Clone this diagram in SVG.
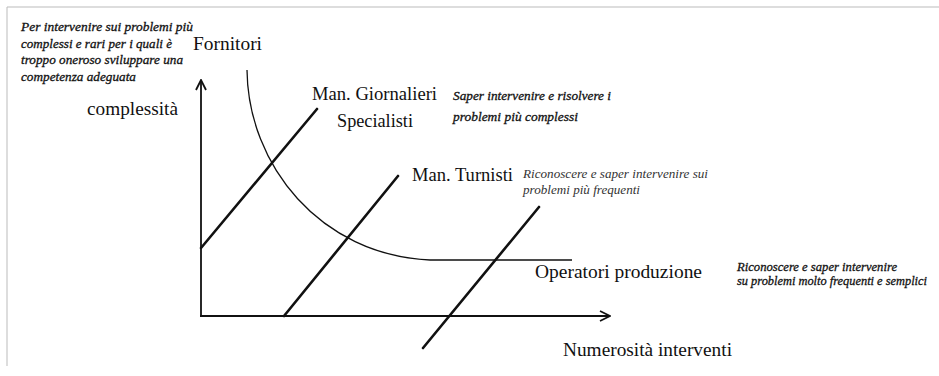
<svg xmlns="http://www.w3.org/2000/svg" width="939" height="376" viewBox="0 0 939 376">
<defs>
<style>
.lbl{font-family:"Liberation Serif","Times New Roman",serif;font-size:19.5px;fill:#111}
.it{font-family:"Liberation Serif","Times New Roman",serif;font-style:italic;font-size:13px;fill:#111;stroke:#111;stroke-width:0.3}
.itl{font-family:"Liberation Serif","Times New Roman",serif;font-style:italic;font-size:12.5px;fill:#333}
.axis{stroke:#111;stroke-width:1.8;fill:none}
.diag{stroke:#111;stroke-width:2.6;fill:none;stroke-linecap:round}
.curve{stroke:#111;stroke-width:1.3;fill:none}
.frame{stroke:#bbb;stroke-width:1;fill:none}
</style>
<marker id="arr" viewBox="0 0 12 12" refX="11" refY="6" markerWidth="12" markerHeight="12" markerUnits="userSpaceOnUse" orient="auto">
<path d="M1,1 L11,6 L1,11" fill="none" stroke="#111" stroke-width="1.8"/>
</marker>
</defs>
<rect width="939" height="376" fill="#fff"/>
<path class="frame" d="M7,366 L7,7 L939,7"/>
<g id="connectors">
<line class="axis" x1="201" y1="316" x2="201" y2="80" marker-end="url(#arr)"/>
<line class="axis" x1="200" y1="316" x2="610" y2="316" marker-end="url(#arr)"/>
<path class="curve" d="M247,70 C248,165 320,255 430,260 L572,260"/>
<line class="diag" x1="201" y1="248" x2="317" y2="109"/>
<line class="diag" x1="284" y1="316" x2="398" y2="176"/>
<line class="diag" x1="423" y1="348" x2="539" y2="207"/>
</g>
<g id="note-fornitori">
<text class="it" x="21" y="31" textLength="172" lengthAdjust="spacingAndGlyphs">Per intervenire sui problemi più</text>
<text class="it" x="21" y="47.5" textLength="151" lengthAdjust="spacingAndGlyphs">complessi e rari per i quali è</text>
<text class="it" x="21" y="64" textLength="162" lengthAdjust="spacingAndGlyphs">troppo oneroso sviluppare una</text>
<text class="it" x="21" y="80.5" textLength="115" lengthAdjust="spacingAndGlyphs">competenza adeguata</text>
</g>
<g id="fornitori">
<text class="lbl" x="193" y="50" textLength="69" lengthAdjust="spacingAndGlyphs">Fornitori</text>
</g>
<g id="y-label">
<text class="lbl" x="87" y="115" textLength="91" lengthAdjust="spacingAndGlyphs">complessità</text>
</g>
<g id="giornalieri">
<text class="lbl" x="312" y="100" textLength="125" lengthAdjust="spacingAndGlyphs">Man. Giornalieri</text>
<text class="lbl" x="337" y="127" textLength="76" lengthAdjust="spacingAndGlyphs">Specialisti</text>
</g>
<g id="note-giornalieri">
<text class="it" x="453" y="100" textLength="158" lengthAdjust="spacingAndGlyphs">Saper intervenire e risolvere i</text>
<text class="it" x="453" y="121" textLength="125" lengthAdjust="spacingAndGlyphs">problemi più complessi</text>
</g>
<g id="turnisti">
<text class="lbl" x="412" y="181" textLength="101" lengthAdjust="spacingAndGlyphs">Man. Turnisti</text>
</g>
<g id="note-turnisti">
<text class="itl" x="523" y="178" textLength="185" lengthAdjust="spacingAndGlyphs">Riconoscere e saper intervenire sui</text>
<text class="itl" x="523" y="194" textLength="117" lengthAdjust="spacingAndGlyphs">problemi più frequenti</text>
</g>
<g id="operatori">
<text class="lbl" x="535" y="278" textLength="167" lengthAdjust="spacingAndGlyphs">Operatori produzione</text>
</g>
<g id="note-operatori">
<text class="it" x="737" y="271" textLength="160" lengthAdjust="spacingAndGlyphs">Riconoscere e saper intervenire</text>
<text class="it" x="737" y="285" textLength="190" lengthAdjust="spacingAndGlyphs">su problemi molto frequenti e semplici</text>
</g>
<g id="x-label">
<text class="lbl" x="563" y="356" textLength="169" lengthAdjust="spacingAndGlyphs">Numerosità interventi</text>
</g>
</svg>
